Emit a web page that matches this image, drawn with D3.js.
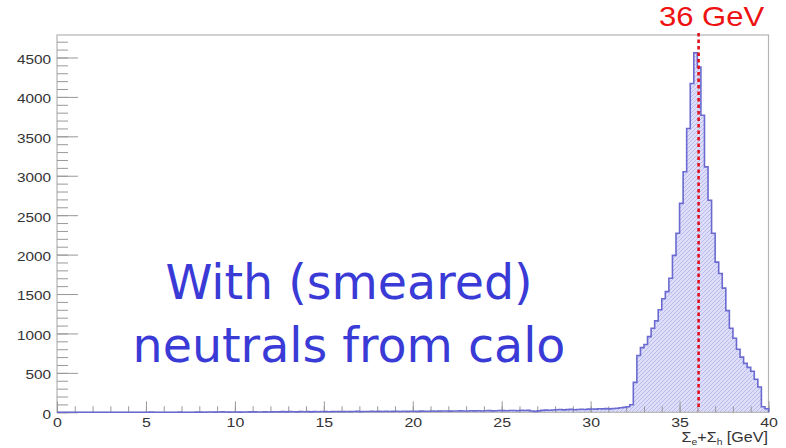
<!DOCTYPE html>
<html><head><meta charset="utf-8">
<script src="https://cdn.jsdelivr.net/npm/d3@7"></script>
<style>body{margin:0;background:#fff}svg{display:block}</style>
</head><body><svg id="c" width="786" height="448"></svg>
<script>
// ---- data ----
const binWidth = 0.2;
const xDomain = [0, 40];
const yMax = 4785;
const counts = [
  0,0,0,0,1,0,0,0,0,1,
  0,0,1,0,0,0,1,0,0,0,
  1,0,0,1,0,0,2,0,1,0,
  0,1,1,0,2,0,1,1,0,2,
  2,1,3,4,2,3,5,3,2,4,
  3,2,4,3,5,6,4,3,5,4,
  6,7,5,8,6,9,7,6,8,7,
  8,6,9,7,10,8,7,9,10,8,
  9,11,8,10,12,9,11,10,12,11,
  12,10,13,11,12,14,11,13,12,14,
  13,12,15,14,13,16,14,15,17,16,
  15,17,16,18,17,16,19,18,20,17,
  19,21,18,20,22,21,19,23,22,20,
  24,22,25,16,12,18,24,27,26,30,
  32,35,31,34,37,33,36,38,35,40,
  42,40,45,43,47,44,48,52,58,62,
  70,95,380,720,820,860,960,1065,1160,1300,
  1440,1530,1700,1990,2270,2650,3050,3600,4170,4558,
  4380,3768,3113,2690,2270,1905,1760,1575,1290,1065,
  940,800,700,620,570,520,420,320,70,45
];
const xTicksMajor = [0,5,10,15,20,25,30,35,40];
const xTicksMinor = d3.range(0, 41, 1);
const yTicksMajor = [0,500,1000,1500,2000,2500,3000,3500,4000,4500];
const yTicksMinor = d3.range(0, 4701, 100);
const markerValue = 36.07;
const markerLabel = "36 GeV";
const overlayText = ["With (smeared)", "neutrals from calo"];

// ---- scales ----
const x = d3.scaleLinear().domain(xDomain).range([57, 768.5]);
const y = d3.scaleLinear().domain([0, yMax]).range([412.3, 35]);
const svg = d3.select("#c");

// hatch pattern
const defs = svg.append("defs");
const pat = defs.append("pattern").attr("id","hatch").attr("patternUnits","userSpaceOnUse")
  .attr("width",4).attr("height",4);
pat.append("rect").attr("width",4).attr("height",4).attr("fill","#dedefb");
pat.append("path").attr("d","M-1,1 l2,-2 M0,4 l4,-4 M3,5 l2,-2").attr("stroke","#b0b2ea").attr("stroke-width",0.8);

const bins = counts.map((c,i)=>({x0: i*binWidth, v: c}));
const areaData = bins.concat([{x0: xDomain[1], v: counts[counts.length-1]}]);
const lineData = [{x0:0, v:0}].concat(areaData, [{x0: xDomain[1], v: 0}]);

svg.append("path").datum(areaData)
  .attr("d", d3.area().curve(d3.curveStepAfter).x(d=>x(d.x0)).y0(y(0)).y1(d=>y(d.v)))
  .attr("fill","url(#hatch)");

// frame
svg.append("rect").attr("x",x(0)).attr("y",y(yMax)).attr("width",x(40)-x(0)).attr("height",y(0)-y(yMax))
  .attr("fill","none").attr("stroke","#b4b4b4").attr("stroke-width",1.2);

// axes
const tickCol = "#999";
const gy = svg.append("g").attr("transform",`translate(${x(0)},0)`);
gy.call(d3.axisLeft(y).tickValues(yTicksMinor).tickSize(-11).tickFormat(""));
gy.append("g").call(d3.axisLeft(y).tickValues(yTicksMajor).tickSize(-21).tickPadding(5).tickFormat(d3.format("d")));
gy.selectAll(".domain").remove();
gy.selectAll("line").attr("stroke",tickCol);
gy.selectAll("text").attr("font-family","Liberation Sans, Arial, sans-serif").attr("font-size",13)
  .attr("fill","#333").attr("dy","0.45em").attr("transform","scale(1.18,1)");

const gx = svg.append("g").attr("transform",`translate(0,${y(0)})`);
gx.call(d3.axisBottom(x).tickValues(xTicksMinor).tickSize(-6).tickFormat(""));
gx.append("g").call(d3.axisBottom(x).tickValues(xTicksMajor).tickSize(-11).tickPadding(5).tickFormat(d3.format("d")));
gx.selectAll(".domain").remove();
gx.selectAll("line").attr("stroke",tickCol);
gx.selectAll("text").attr("font-family","Liberation Sans, Arial, sans-serif").attr("font-size",13.5)
  .attr("fill","#333").attr("transform","scale(1.18,1)");

// histogram outline
svg.append("path").datum(lineData)
  .attr("d", d3.line().curve(d3.curveStepAfter).x(d=>x(d.x0)).y(d=>y(d.v)))
  .attr("fill","none").attr("stroke","#6a6ad0").attr("stroke-width",1.6);

// marker line
svg.append("line").attr("x1",x(markerValue)).attr("x2",x(markerValue))
  .attr("y1",33).attr("y2",y(0)-2)
  .attr("stroke","#e00f1c").attr("stroke-width",2.6).attr("stroke-dasharray","3.5,3");
svg.append("text").attr("x",0).attr("y",0)
  .attr("transform",`translate(${x(markerValue)+13},25.5) scale(1.15,1)`)
  .attr("text-anchor","middle").attr("font-family","Liberation Sans, Arial, sans-serif")
  .attr("font-size",27).attr("fill","#ee1111").text(markerLabel);

// x title
const xt = svg.append("text").attr("transform","translate(768,441.5) scale(1.15,1)")
  .attr("text-anchor","end").attr("font-family","Liberation Sans, Arial, sans-serif")
  .attr("font-size",14).attr("fill","#333");
xt.append("tspan").text("Σ");
xt.append("tspan").attr("font-size",9).attr("dy",3).text("e");
xt.append("tspan").attr("dy",-3).text("+Σ");
xt.append("tspan").attr("font-size",9).attr("dy",3).text("h");
xt.append("tspan").attr("dy",-3).text(" [GeV]");

// overlay text
svg.append("g").selectAll("text").data(overlayText).join("text")
  .attr("x",349).attr("y",(d,i)=>299+i*63)
  .attr("text-anchor","middle").attr("font-family","DejaVu Sans, Verdana, sans-serif")
  .attr("font-size",47.5).attr("fill","#3a3ad6").text(d=>d);
</script></body></html>
